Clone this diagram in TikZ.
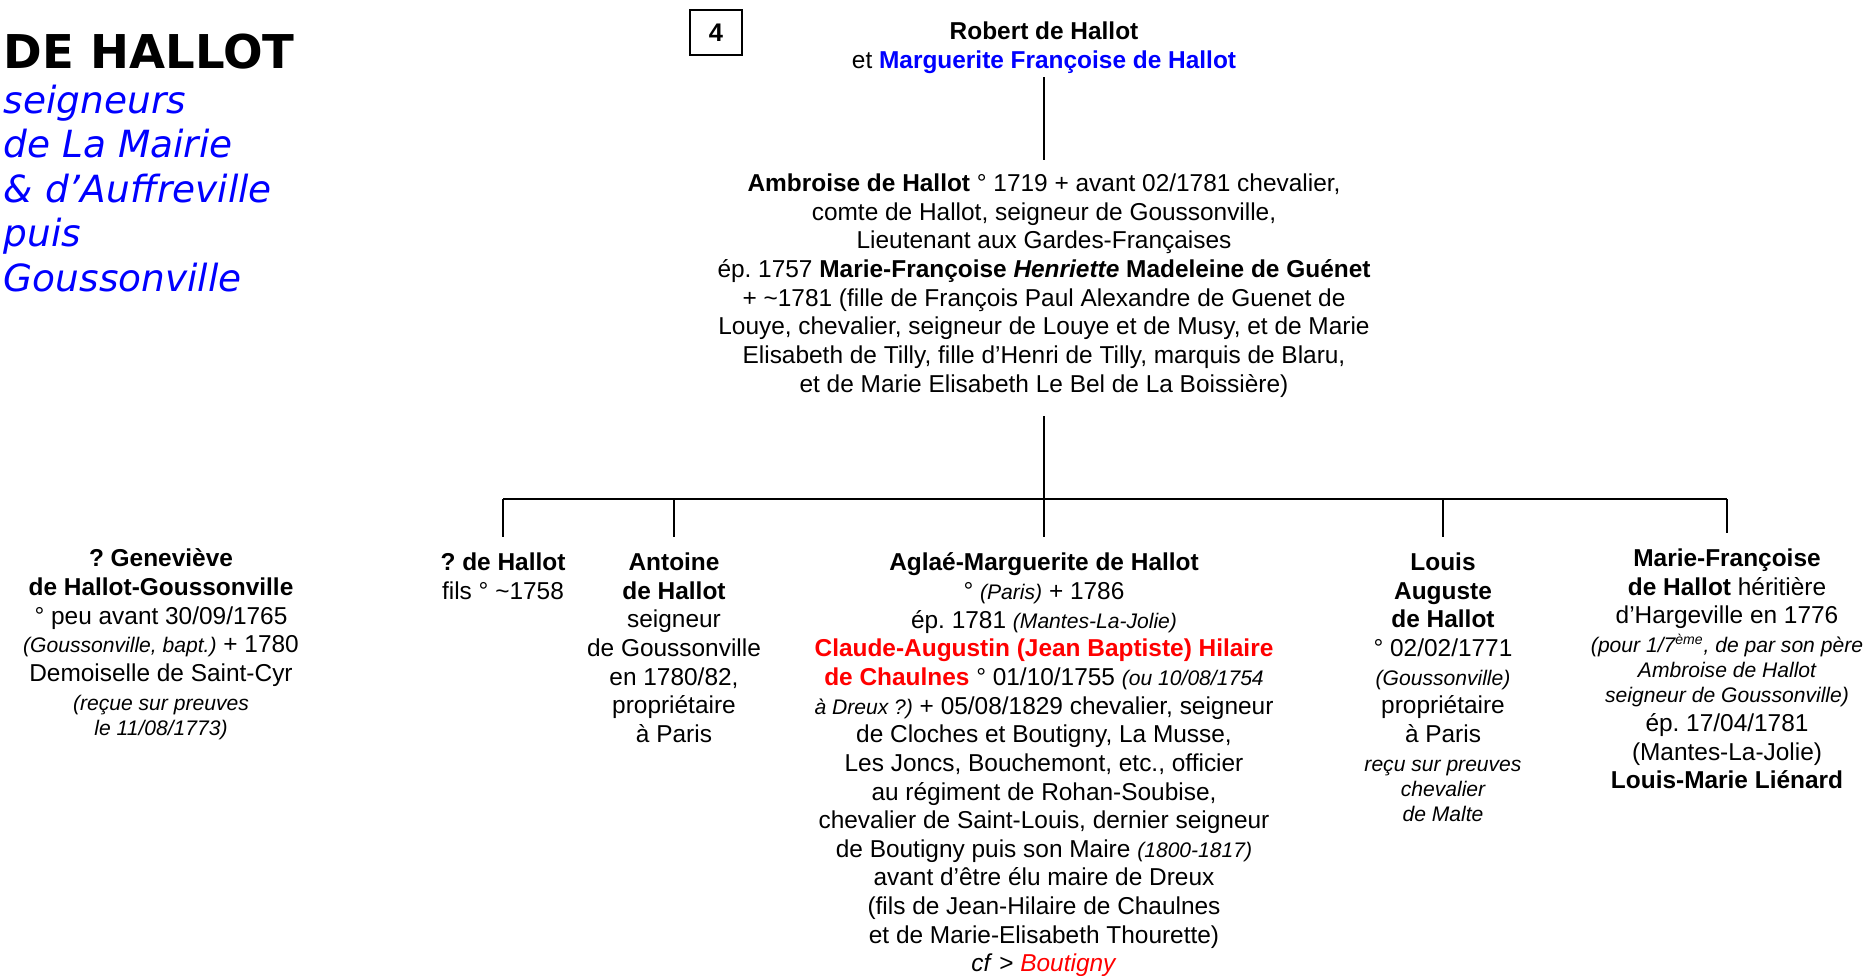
\documentclass[tikz,border=0pt]{standalone}
\usepackage{fontspec}
\setmainfont{Liberation Sans}
\newfontfamily\dejavu{DejaVu Sans}
\usetikzlibrary{positioning, calc}
\frenchspacing

% 小さい斜体（注記用）
\newcommand{\sm}[1]{{\fontsize{12}{13}\selectfont\itshape #1}}

\begin{document}
\begin{tikzpicture}[
    line width=1.1pt,       % 系図の線
    person/.style={align=center, anchor=north, inner sep=0pt,
                   font=\fontsize{13.9}{16.3}\selectfont}
]
    \useasboundingbox (0,0) rectangle (37.42,-19.5);

    % --- 1. タイトル ---
    \node [anchor=base west, inner sep=0pt,
           font=\dejavu\bfseries\fontsize{26.5}{30}\selectfont] (title) at (0.06,-1.36) {DE HALLOT};
    \node [anchor=north west, inner sep=0pt, align=left, text=blue,
           font=\dejavu\itshape\fontsize{21.3}{25.3}\selectfont] (subtitle) at (0.06,-1.68)
        {seigneurs\\de La Mairie\\\& d’Auffreville\\puis\\Goussonville};

    % 番号の枠
    \node [draw, line width=0.6pt, minimum width=1.04cm, minimum height=0.9cm,
           font=\bfseries\fontsize{14.5}{16}\selectfont] (num) at (14.32,-0.65) {4};

    % --- 2. 親の世代 ---
    \node [person] (robert) at (20.88,-0.42)
        {\textbf{Robert de Hallot}\\et \textcolor{blue}{\textbf{Marguerite Françoise de Hallot}}};

    \node [person] (ambroise) at (20.88,-3.46)
        {\textbf{Ambroise de Hallot} ° 1719 + avant 02/1781 chevalier,\\
         comte de Hallot, seigneur de Goussonville,\\
         Lieutenant aux Gardes-Françaises\\
         ép. 1757 \textbf{Marie-Françoise \textit{Henriette} Madeleine de Guénet}\\
         + \textasciitilde1781 (fille de François Paul Alexandre de Guenet de\\
         Louye, chevalier, seigneur de Louye et de Musy, et de Marie\\
         Elisabeth de Tilly, fille d’Henri de Tilly, marquis de Blaru,\\
         et de Marie Elisabeth Le Bel de La Boissière)};

    \draw [shorten <=1.7pt, shorten >=7.4pt] (robert) -- (ambroise);

    % --- 3. 子の世代 ---
    \node [person] (genevieve) at (3.22,-10.96)
        {\textbf{? Geneviève}\\
         \textbf{de Hallot-Goussonville}\\
         ° peu avant 30/09/1765\\
         \sm{(Goussonville, bapt.)} + 1780\\
         Demoiselle de Saint-Cyr\\
         \sm{(reçue sur preuves}\\[-2pt]
         \sm{le 11/08/1773)}};

    \node [person] (fils) at (10.06,-11.04)
        {\textbf{? de Hallot}\\fils ° \textasciitilde1758};

    \node [person] (antoine) at (13.48,-11.04)
        {\textbf{Antoine}\\\textbf{de Hallot}\\seigneur\\de Goussonville\\
         en 1780/82,\\propriétaire\\à Paris};

    \node [person] (aglae) at (20.88,-11.04)
        {\textbf{Aglaé-Marguerite de Hallot}\\
         ° \sm{(Paris)} + 1786\\
         ép. 1781 \sm{(Mantes-La-Jolie)}\\
         \textcolor{red}{\textbf{Claude-Augustin (Jean Baptiste) Hilaire}}\\
         \textcolor{red}{\textbf{de Chaulnes}} ° 01/10/1755 \sm{(ou 10/08/1754}\\
         \sm{à Dreux ?)} + 05/08/1829 chevalier, seigneur\\
         de Cloches et Boutigny, La Musse,\\
         Les Joncs, Bouchemont, etc., officier\\
         au régiment de Rohan-Soubise,\\
         chevalier de Saint-Louis, dernier seigneur\\
         de Boutigny puis son Maire \sm{(1800-1817)}\\
         avant d’être élu maire de Dreux\\
         (fils de Jean-Hilaire de Chaulnes\\
         et de Marie-Elisabeth Thourette)\\
         \textit{cf} > \textcolor{red}{\textit{Boutigny}}};

    \node [person] (louis) at (28.86,-11.04)
        {\textbf{Louis}\\\textbf{Auguste}\\\textbf{de Hallot}\\° 02/02/1771\\
         \sm{(Goussonville)}\\propriétaire\\à Paris\\
         \sm{reçu sur preuves}\\[-2pt]
         \sm{chevalier}\\[-2pt]
         \sm{de Malte}};

    \node [person] (mfranc) at (34.54,-10.96)
        {\textbf{Marie-Françoise}\\
         \textbf{de Hallot} héritière\\
         d’Hargeville en 1776\\
         \sm{(pour 1/7\textsuperscript{ème}, de par son père}\\[-2pt]
         \sm{Ambroise de Hallot}\\[-2pt]
         \sm{seigneur de Goussonville)}\\
         ép. 17/04/1781\\
         (Mantes-La-Jolie)\\
         \textbf{Louis-Marie Liénard}};

    % --- 4. 横棒と縦線 ---
    \coordinate (bar) at (20.88,-9.98);
    \draw [shorten <=10.2pt] (ambroise) -- (ambroise |- bar);
    \draw [line width=1.6pt] (fils |- bar) -- (mfranc |- bar);
    \foreach \child in {fils, antoine, aglae, louis, mfranc}
        \draw [shorten >=8.5pt] (\child |- bar) -- (\child);

\end{tikzpicture}
\end{document}
